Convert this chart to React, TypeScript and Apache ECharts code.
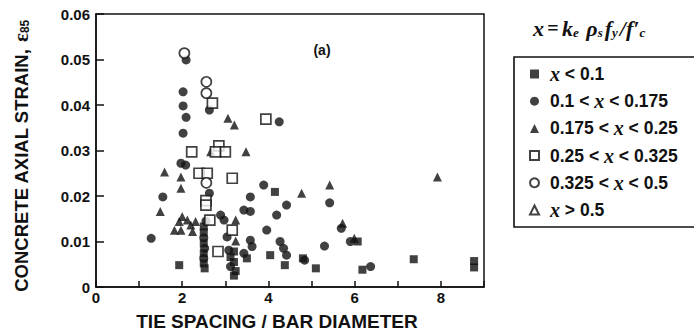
import React, { useEffect, useRef } from "react";
import * as echarts from "echarts";

// x < 0.1 (filled squares)
const filledSquares: number[][] = [
  [1.93, 0.0048], [2.5, 0.0133], [2.5, 0.012], [2.5, 0.0096], [2.5, 0.0074], [2.5, 0.0052],
  [2.52, 0.0041], [3.12, 0.0066], [3.2, 0.0055], [3.24, 0.0035], [3.2, 0.0025], [3.2, 0.0078],
  [4.15, 0.0209], [4.04, 0.007], [4.38, 0.0048], [4.8, 0.0063], [5.1, 0.0041], [6.07, 0.01],
  [6.18, 0.0038], [7.37, 0.0061], [8.77, 0.0057], [8.77, 0.0043], [3.5, 0.0063],
];
// 0.1 < x < 0.175 (filled circles)
const filledCircles: number[][] = [
  [2.09, 0.0499], [2.02, 0.0429], [2.02, 0.0398], [2.09, 0.0373], [2.02, 0.0338], [2.63, 0.0389],
  [4.25, 0.0363], [1.97, 0.0272], [2.08, 0.0268], [2.63, 0.0206], [1.55, 0.0198], [1.28, 0.0107],
  [2.5, 0.0108], [2.52, 0.0085], [2.5, 0.0063], [3.89, 0.0224], [3.58, 0.0198], [4.42, 0.018],
  [3.43, 0.0169], [3.58, 0.0166], [4.19, 0.0158], [2.89, 0.0158], [2.97, 0.0147], [3.04, 0.011],
  [3.96, 0.0125], [3.58, 0.0103], [3.62, 0.0089], [3.43, 0.0074], [3.08, 0.0081], [3.12, 0.0045],
  [4.27, 0.01], [4.35, 0.0085], [4.42, 0.007], [5.42, 0.0185], [5.69, 0.0129], [5.9, 0.01],
  [5.3, 0.009], [4.84, 0.0059], [6.37, 0.0045], [2.55, 0.0145],
];
// 0.175 < x < 0.25 (filled triangles)
const filledTriangles: number[][] = [
  [3.06, 0.0371], [3.21, 0.0356], [2.66, 0.0297], [3.48, 0.0297], [1.59, 0.0253], [1.97, 0.0242],
  [1.97, 0.0217], [1.49, 0.0166], [2.0, 0.0155], [1.93, 0.0144], [2.12, 0.0147], [1.82, 0.0125],
  [1.97, 0.0125], [2.2, 0.0136], [2.31, 0.0144], [2.24, 0.0122], [3.24, 0.0147], [3.24, 0.0101],
  [4.77, 0.0206], [5.42, 0.0224], [5.72, 0.014], [5.99, 0.0107], [7.92, 0.0242],
];
// 0.25 < x < 0.325 (open squares)
const openSquares: number[][] = [
  [2.7, 0.0404], [3.94, 0.0369], [2.22, 0.0297], [2.85, 0.031], [3.0, 0.0297], [2.77, 0.0297],
  [2.39, 0.025], [2.58, 0.025], [2.55, 0.019], [2.55, 0.018], [3.16, 0.0239], [2.64, 0.0147],
  [3.16, 0.0125], [2.83, 0.0078],
];
// 0.325 < x < 0.5 (open circles)
const openCircles: number[][] = [
  [2.05, 0.0514], [2.56, 0.0451], [2.56, 0.0426], [2.56, 0.0229],
];
// x > 0.5 (open triangles)
const openTriangles: number[][] = [];

const seriesNames = ["x < 0.1", "0.1 < x < 0.175", "0.175 < x < 0.25", "0.25 < x < 0.325", "0.325 < x < 0.5", "x > 0.5"];
const xTicks = [0, 2, 4, 6, 8];
const yTicks = [0, 0.01, 0.02, 0.03, 0.04, 0.05, 0.06];

const INK = "#111";
const SANS = "Liberation Sans";

export default function App() {
  const ref = useRef<HTMLDivElement>(null);
  useEffect(() => {
    if (!ref.current) return;
    const chart = echarts.init(ref.current, undefined, { renderer: "svg" });
    const filled = { color: INK };
    const open = { color: "#fff", borderColor: INK, borderWidth: 1.7 };
    const mk = (name: string, data: number[][], symbol: string, size: number, style: any) => ({
      name,
      type: "scatter",
      data,
      symbol,
      symbolSize: size,
      itemStyle: style,
      z: style.color === "#fff" ? 3 : 2,
    });
    chart.setOption({
      animation: false,
      backgroundColor: "#fff",
      grid: { left: 96, top: 14, right: 210, bottom: 46, show: true, borderColor: INK, borderWidth: 1.5, backgroundColor: "transparent" },
      xAxis: {
        type: "value", min: 0, max: 9, interval: 1,
        axisLine: { lineStyle: { color: INK, width: 1.5 } },
        axisTick: { inside: true, length: 6, lineStyle: { color: INK, width: 1.5 } },
        splitLine: { show: false },
        axisLabel: {
          color: INK, fontFamily: SANS, fontWeight: "bold", fontSize: 15, margin: 3,
          formatter: (v: number) => (xTicks.includes(v) ? String(v) : ""),
        },
      },
      yAxis: {
        type: "value", min: 0, max: 0.06, interval: 0.01,
        axisLine: { lineStyle: { color: INK, width: 1.5 } },
        axisTick: { inside: true, length: 8, lineStyle: { color: INK, width: 1.5 } },
        splitLine: { show: false },
        axisLabel: {
          color: INK, fontFamily: SANS, fontWeight: "bold", fontSize: 15, margin: 6,
          formatter: (v: number) => {
            const t = yTicks.find((k) => Math.abs(k - v) < 1e-9);
            if (t === undefined) return "";
            return t === 0 ? "0" : t.toFixed(2);
          },
        },
      },
      legend: {
        orient: "vertical", left: 524, top: 59, itemGap: 7.2, itemWidth: 9, itemHeight: 9,
        data: seriesNames,
        textStyle: {
          color: INK, fontFamily: SANS, fontWeight: "bold", fontSize: 17.5,
          rich: {
            g: { width: 6 },
            i: { fontFamily: "Liberation Serif", fontStyle: "italic", fontWeight: "bold", fontSize: 20, color: INK, lineHeight: 18 },
            t: { fontFamily: SANS, fontWeight: "bold", fontSize: 17.5, color: INK, lineHeight: 18 },
          },
        },
        formatter: (name: string) => {
          const parts = name.split("x");
          return "{g|}" + parts.map((p) => (p ? `{t|${p}}` : "")).join("{i|x}");
        },
      },
      graphic: [
        { type: "rect", shape: { x: 514, y: 57, width: 200, height: 170 }, style: { fill: "none", stroke: INK, lineWidth: 1.6 }, silent: true },
        {
          type: "text", x: 533, y: 28,
          style: {
            text: "{v|x} {o|=} {v|k}{s|e}{v| ρ}{s|s}{v|f}{s|y}{v|/f′}{s|c}",
            textVerticalAlign: "middle",
            rich: {
              v: { fontFamily: "Liberation Serif", fontStyle: "italic", fontWeight: "bold", fontSize: 22, fill: INK },
              o: { fontFamily: "Liberation Serif", fontWeight: "bold", fontSize: 20, fill: INK },
              s: { fontFamily: "Liberation Serif", fontStyle: "italic", fontWeight: "bold", fontSize: 13, fill: INK, padding: [9, 2, 0, 0] },
            },
          },
        },
        {
          type: "text", x: 322, y: 50,
          style: { text: "(a)", fontFamily: SANS, fontWeight: "bold", fontSize: 14, fill: INK, textAlign: "center", textVerticalAlign: "middle" },
        },
        {
          type: "text", x: 277, y: 321,
          style: { text: "TIE SPACING / BAR DIAMETER", fontFamily: SANS, fontWeight: "bold", fontSize: 19, fill: INK, textAlign: "center", textVerticalAlign: "middle" },
        },
        {
          type: "text", x: 21, y: 156, rotation: Math.PI / 2,
          style: {
            text: "{t|CONCRETE AXIAL STRAIN,}  {e|ε}{s|85}",
            textAlign: "center", textVerticalAlign: "middle",
            rich: {
              t: { fontFamily: SANS, fontWeight: "bold", fontSize: 18.5, fill: INK },
              e: { fontFamily: "Liberation Serif", fontWeight: "bold", fontSize: 21, fill: INK },
              s: { fontFamily: SANS, fontWeight: "bold", fontSize: 12, fill: INK, padding: [7, 0, 0, 0] },
            },
          },
        },
      ],
      series: [
        mk(seriesNames[0], filledSquares, "rect", 8, filled),
        mk(seriesNames[1], filledCircles, "circle", 9, filled),
        mk(seriesNames[2], filledTriangles, "triangle", 9, filled),
        mk(seriesNames[3], openSquares, "rect", 10, open),
        mk(seriesNames[4], openCircles, "circle", 10, open),
        mk(seriesNames[5], openTriangles, "triangle", 10, open),
      ],
    });
    return () => chart.dispose();
  }, []);
  return <div ref={ref} style={{ position: "fixed", left: 0, top: 0, width: 694, height: 333 }} />;
}
